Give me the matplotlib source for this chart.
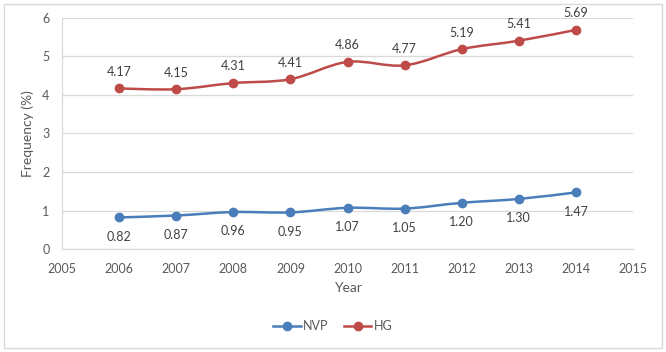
import matplotlib
matplotlib.use("Agg")
import matplotlib.pyplot as plt
from matplotlib.path import Path
from matplotlib.patches import PathPatch, FancyBboxPatch
from matplotlib.lines import Line2D

plt.rcParams["font.family"] = ["Lato", "DejaVu Sans"]

years = [2006, 2007, 2008, 2009, 2010, 2011, 2012, 2013, 2014]
nvp = [0.82, 0.87, 0.96, 0.95, 1.07, 1.05, 1.20, 1.30, 1.47]
hg = [4.17, 4.15, 4.31, 4.41, 4.86, 4.77, 5.19, 5.41, 5.69]
nvp_labels = ["0.82", "0.87", "0.96", "0.95", "1.07", "1.05", "1.20", "1.30", "1.47"]
hg_labels = ["4.17", "4.15", "4.31", "4.41", "4.86", "4.77", "5.19", "5.41", "5.69"]

BLUE = "#4A7EBB"
RED = "#BE4B48"
TXT = "#595959"


def smooth_path(xs, ys):
    # Excel-style smoothed line: cubic bezier segments through the points
    verts = [(xs[0], ys[0])]
    codes = [Path.MOVETO]
    n = len(xs)
    for i in range(n - 1):
        x0, y0 = (xs[i - 1], ys[i - 1]) if i > 0 else (xs[i], ys[i])
        x1, y1 = xs[i], ys[i]
        x2, y2 = xs[i + 1], ys[i + 1]
        x3, y3 = (xs[i + 2], ys[i + 2]) if i + 2 < n else (x2, y2)
        c1 = (x1 + (x2 - x0) / 6, y1 + (y2 - y0) / 6)
        c2 = (x2 - (x3 - x1) / 6, y2 - (y3 - y1) / 6)
        verts += [c1, c2, (x2, y2)]
        codes += [Path.CURVE4] * 3
    return Path(verts, codes)


fig = plt.figure(figsize=(6.66, 3.52), dpi=100)
fig.patches.append(FancyBboxPatch((0.006, 0.011), 0.988, 0.978,
                                  boxstyle="square,pad=0", transform=fig.transFigure,
                                  fc="white", ec="#D9D9D9", lw=1.0, zorder=-1))
ax = fig.add_axes([0.0931, 0.2926, 0.8574, 0.6563])

for ys, color in ((nvp, BLUE), (hg, RED)):
    ax.add_patch(PathPatch(smooth_path(years, ys), fc="none", ec=color, lw=1.8,
                           zorder=3, capstyle="round"))
    ax.plot(years, ys, ls="none", marker="o", ms=6, color=color, zorder=4)

for x, y, s in zip(years, hg, hg_labels):
    ax.annotate(s, (x, y), xytext=(0, 12), textcoords="offset points",
                ha="center", va="center", fontsize=9, color="#404040")
for x, y, s in zip(years, nvp, nvp_labels):
    ax.annotate(s, (x, y), xytext=(0, -14), textcoords="offset points",
                ha="center", va="center", fontsize=9, color="#404040")

ax.set_xlim(2005, 2015)
ax.set_ylim(0, 6)
ax.set_xticks(range(2005, 2016))
ax.set_yticks(range(0, 7))
ax.grid(axis="y", color="#D9D9D9", lw=0.9)
ax.set_axisbelow(True)
for side in ("top", "right"):
    ax.spines[side].set_visible(False)
for side in ("left", "bottom"):
    ax.spines[side].set_color("#D9D9D9")
    ax.spines[side].set_linewidth(0.9)
ax.tick_params(length=0, labelsize=9, colors=TXT)
ax.tick_params(axis="x", pad=10)
ax.tick_params(axis="y", pad=9)
ax.set_xlabel("Year", fontsize=10, color=TXT, labelpad=5)
ax.set_ylabel("Frequency (%)", fontsize=10, color=TXT, labelpad=6)

handles = [Line2D([], [], color=BLUE, lw=1.8, marker="o", ms=6),
           Line2D([], [], color=RED, lw=1.8, marker="o", ms=6)]
fig.legend(handles, ["NVP", "HG"], loc="center", bbox_to_anchor=(0.5, 0.074),
           ncol=2, frameon=False, fontsize=9, labelcolor=TXT,
           handlelength=2.2, handletextpad=0.2, columnspacing=1.2)

fig.savefig("out.png", dpi=100)
